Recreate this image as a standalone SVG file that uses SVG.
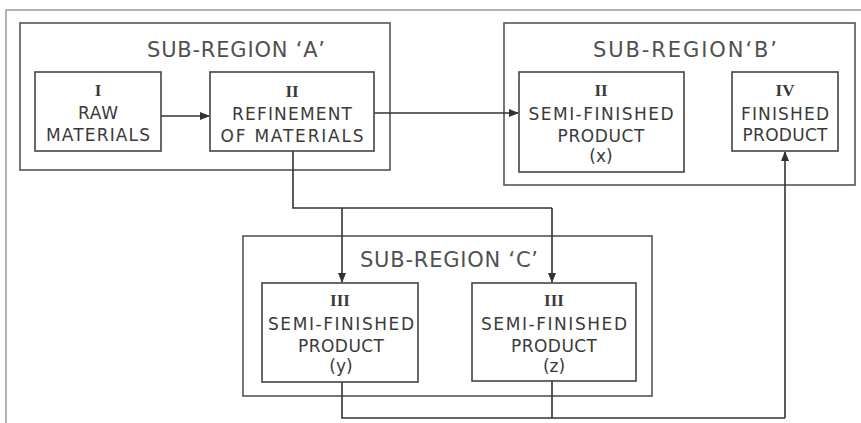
<svg xmlns="http://www.w3.org/2000/svg" width="861" height="423" viewBox="0 0 861 423">
<style>
.frame{fill:none;stroke:#9a9a9a;stroke-width:1.5}
.region{fill:none;stroke:#555;stroke-width:1.6}
.box{fill:#fff;stroke:#444;stroke-width:1.6}
.conn{fill:none;stroke:#333;stroke-width:1.6}
.t{font-family:"DejaVu Sans","Liberation Sans",sans-serif;font-size:17px;fill:#3a3a3a;text-anchor:middle}
.title{font-family:"DejaVu Sans","Liberation Sans",sans-serif;font-size:21px;fill:#505050;text-anchor:middle}
.num{font-family:"Liberation Serif","DejaVu Serif",serif;font-size:17px;font-weight:bold;fill:#3a3a3a;text-anchor:middle}
</style>
<defs>
<marker id="arr" markerWidth="10" markerHeight="8" refX="9" refY="4" orient="auto" markerUnits="userSpaceOnUse">
<path d="M0,0 L10,4 L0,8 Z" fill="#333"/>
</marker>
</defs>
<rect width="861" height="423" fill="#fff"/>
<path class="frame" d="M6,423 V10 H861"/>

<g id="region-a">
<rect class="region" x="20" y="23" width="370" height="147"/>
<text class="title" x="236" y="57" textLength="178" lengthAdjust="spacing">SUB-REGION ‘A’</text>
</g>
<g id="region-b">
<rect class="region" x="504" y="23" width="351" height="162"/>
<text class="title" x="685" y="57" textLength="184" lengthAdjust="spacing">SUB-REGION‘B’</text>
</g>
<g id="region-c">
<rect class="region" x="243" y="236" width="409" height="160"/>
<text class="title" x="449" y="267" textLength="178" lengthAdjust="spacing">SUB-REGION ‘C’</text>
</g>

<g id="connectors">
<line class="conn" x1="161" y1="116" x2="209" y2="116" marker-end="url(#arr)"/>
<line class="conn" x1="374" y1="113" x2="518" y2="113" marker-end="url(#arr)"/>
<path class="conn" d="M293,151 V208 H552"/>
<line class="conn" x1="342" y1="208" x2="342" y2="282" marker-end="url(#arr)"/>
<line class="conn" x1="552" y1="208" x2="552" y2="282" marker-end="url(#arr)"/>
<path class="conn" d="M342,382 V418 H785"/>
<line class="conn" x1="552" y1="381" x2="552" y2="418"/>
<line class="conn" x1="785" y1="418" x2="785" y2="152" marker-end="url(#arr)"/>
</g>

<g id="node-raw">
<rect class="box" x="35" y="72" width="126" height="79"/>
<text class="num" x="98" y="96">I</text>
<text class="t" x="98" y="119" textLength="40" lengthAdjust="spacing">RAW</text>
<text class="t" x="98" y="141" textLength="104" lengthAdjust="spacing">MATERIALS</text>
</g>
<g id="node-refinement">
<rect class="box" x="210" y="72" width="164" height="79"/>
<text class="num" x="292" y="97">II</text>
<text class="t" x="292" y="120" textLength="120" lengthAdjust="spacing">REFINEMENT</text>
<text class="t" x="292" y="142" textLength="143" lengthAdjust="spacing">OF MATERIALS</text>
</g>
<g id="node-semi-x">
<rect class="box" x="519" y="72" width="165" height="100"/>
<text class="num" x="601" y="96">II</text>
<text class="t" x="601" y="120" textLength="145" lengthAdjust="spacing">SEMI-FINISHED</text>
<text class="t" x="601" y="142" textLength="87" lengthAdjust="spacing">PRODUCT</text>
<text class="t" x="601" y="162">(x)</text>
</g>
<g id="node-finished">
<rect class="box" x="732" y="72" width="106" height="79"/>
<text class="num" x="785" y="96">IV</text>
<text class="t" x="785" y="120" textLength="88" lengthAdjust="spacing">FINISHED</text>
<text class="t" x="785" y="141" textLength="85" lengthAdjust="spacing">PRODUCT</text>
</g>
<g id="node-semi-y">
<rect class="box" x="262" y="283" width="156" height="99"/>
<text class="num" x="340" y="306">III</text>
<text class="t" x="341" y="330" textLength="146" lengthAdjust="spacing">SEMI-FINISHED</text>
<text class="t" x="341" y="352" textLength="86" lengthAdjust="spacing">PRODUCT</text>
<text class="t" x="341" y="372">(y)</text>
</g>
<g id="node-semi-z">
<rect class="box" x="472" y="283" width="164" height="98"/>
<text class="num" x="554" y="306">III</text>
<text class="t" x="554" y="330" textLength="146" lengthAdjust="spacing">SEMI-FINISHED</text>
<text class="t" x="554" y="352" textLength="86" lengthAdjust="spacing">PRODUCT</text>
<text class="t" x="554" y="372">(z)</text>
</g>
</svg>
